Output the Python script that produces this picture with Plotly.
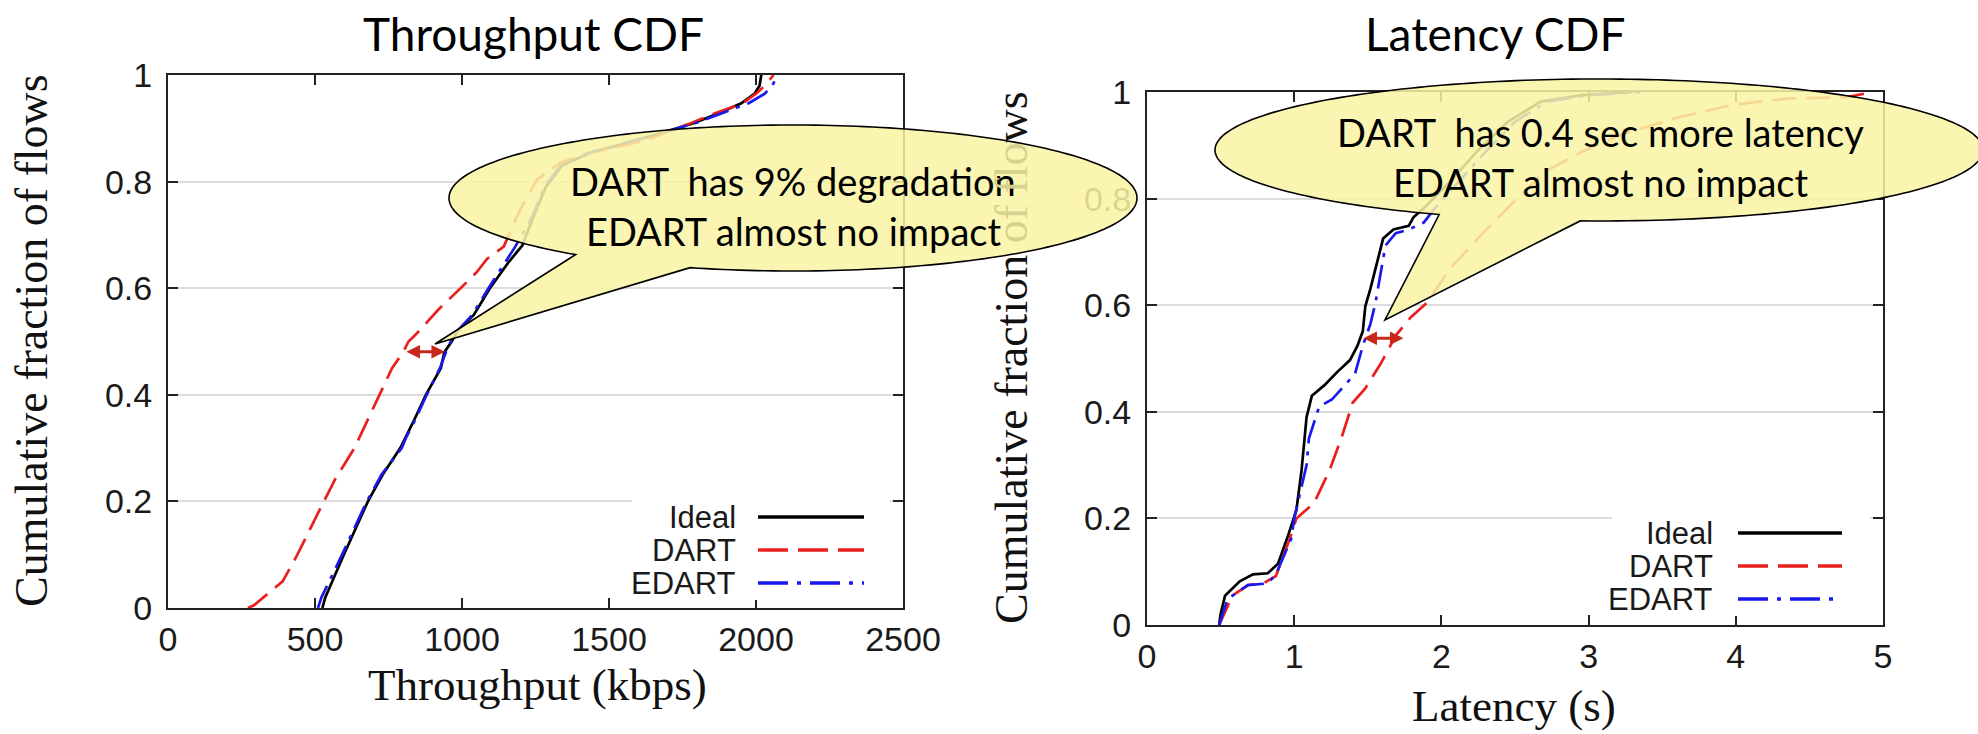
import numpy as np
import plotly.graph_objects as go

# ---------------- data ----------------
# Throughput CDF (kbps vs cumulative fraction)
tp_ideal_kbps = [525, 535, 598, 680, 730, 790, 835, 877, 928, 940, 965, 985, 1040, 1095, 1160,
                 1205, 1240, 1285, 1340, 1440, 1580, 1700, 1790, 1880, 1950, 1995, 2012, 2018]
tp_ideal_cdf = [0, 0.02, 0.1, 0.2, 0.25, 0.3, 0.35, 0.4, 0.45, 0.48, 0.5, 0.52, 0.55, 0.6, 0.65,
                0.68, 0.73, 0.79, 0.83, 0.855, 0.875, 0.895, 0.91, 0.93, 0.947, 0.965, 0.98, 1.0]

tp_dart_kbps = [272, 292, 390, 440, 530, 570, 634, 721, 762, 800, 818, 846, 920, 995, 1050, 1085,
                1142, 1197, 1254, 1333, 1424, 1514, 1628, 1705, 1780, 1870, 1955, 2000, 2030, 2060]
tp_dart_cdf = [0, 0.005, 0.05, 0.1, 0.2, 0.243, 0.3, 0.4, 0.45, 0.48, 0.5, 0.515, 0.56, 0.6, 0.63,
               0.655, 0.678, 0.747, 0.803, 0.835, 0.853, 0.863, 0.878, 0.895, 0.91, 0.93, 0.947,
               0.965, 0.98, 1.0]

tp_edart_kbps = [510, 522, 592, 676, 726, 795, 810, 838, 880, 925, 945, 962, 985, 1035, 1090, 1150,
                 1180, 1235, 1280, 1335, 1440, 1570, 1705, 1795, 1895, 1975, 2030, 2055, 2075]
tp_edart_cdf = [0, 0.02, 0.1, 0.2, 0.25, 0.3, 0.32, 0.35, 0.4, 0.45, 0.48, 0.5, 0.52, 0.55, 0.6,
                0.65, 0.677, 0.73, 0.79, 0.83, 0.855, 0.875, 0.895, 0.91, 0.93, 0.947, 0.965,
                0.98, 1.0]

# Latency CDF (seconds vs cumulative fraction)
lat_ideal_s = [0.49, 0.50, 0.53, 0.63, 0.72, 0.82, 0.89, 0.96, 1.015, 1.05, 1.084, 1.12, 1.206,
               1.29, 1.379, 1.43, 1.466, 1.483, 1.518, 1.569, 1.604, 1.674, 1.778, 1.81, 1.88,
               2.06, 2.24, 2.45, 2.675, 2.955, 3.3]
lat_ideal_cdf = [0, 0.02, 0.055, 0.082, 0.095, 0.097, 0.115, 0.169, 0.216, 0.29, 0.39, 0.43, 0.45,
                 0.474, 0.497, 0.524, 0.551, 0.598, 0.631, 0.685, 0.725, 0.742, 0.749, 0.765,
                 0.782, 0.832, 0.888, 0.944, 0.982, 0.994, 1.0]

lat_dart_s = [0.49, 0.58, 0.686, 0.79, 0.876, 0.97, 1.015, 1.135, 1.24, 1.327, 1.397, 1.483, 1.587,
              1.692, 1.794, 1.9, 2.06, 2.27, 2.47, 2.70, 2.955, 3.21, 3.59, 3.98, 4.36, 4.745, 4.93]
lat_dart_cdf = [0, 0.055, 0.075, 0.078, 0.092, 0.162, 0.2, 0.229, 0.29, 0.356, 0.417, 0.444, 0.49,
                0.544, 0.578, 0.604, 0.669, 0.732, 0.788, 0.85, 0.888, 0.919, 0.951, 0.976,
                0.988, 0.99, 1.0]

lat_edart_s = [0.49, 0.548, 0.686, 0.82, 0.876, 0.98, 1.0, 1.05, 1.084, 1.10, 1.17, 1.256, 1.345,
               1.413, 1.466, 1.518, 1.552, 1.587, 1.62, 1.69, 1.778, 1.88, 1.95, 2.12, 2.3, 2.5,
               2.72, 3.0, 3.35]
lat_edart_cdf = [0, 0.049, 0.075, 0.078, 0.095, 0.162, 0.2, 0.263, 0.3, 0.35, 0.41, 0.423, 0.45,
                 0.471, 0.524, 0.565, 0.604, 0.659, 0.712, 0.735, 0.742, 0.755, 0.78, 0.832,
                 0.888, 0.944, 0.982, 0.994, 1.0]

series_names = ["Ideal", "DART", "EDART"]
tp_ticks = [0, 500, 1000, 1500, 2000, 2500]
lat_ticks = [0, 1, 2, 3, 4, 5]
cdf_ticks = [0, 0.2, 0.4, 0.6, 0.8, 1]
cdf_ticktext = ["0", "0.2", "0.4", "0.6", "0.8", "1"]

# degradation markers (data coords): (x_start, x_end, y)
tp_gap = (806, 942, 0.481)
lat_gap = (1.46, 1.742, 0.538)

# ---------------- styling / layout geometry ----------------
W, H = 1978, 734
def px(x):
    return x / W
def py(y):
    return 1 - y / H

L_BOX = (168, 903, 75, 608)    # left, right, top, bottom (pixels)
R_BOX = (1147, 1883, 92, 625)

BLACK = "#000000"
RED = "rgb(235,30,30)"
BLUE = "rgb(25,25,235)"
ARROW = "rgb(200,40,25)"
styles = [dict(color=BLACK, width=2.7, dash="solid"),
          dict(color=RED, width=2.7, dash="24px,10px"),
          dict(color=BLUE, width=2.7, dash="24px,8px,4px,8px")]
legend_dash = ["solid", "30px,10px", "30px,9px,4px,9px"]

TICK_FONT = dict(family="Liberation Sans", size=34, color="#1a1a1a")
SERIF = "Liberation Serif"
CAL = "Lato"

fig = go.Figure()
tp_sets = [(tp_ideal_kbps, tp_ideal_cdf), (tp_dart_kbps, tp_dart_cdf), (tp_edart_kbps, tp_edart_cdf)]
lat_sets = [(lat_ideal_s, lat_ideal_cdf), (lat_dart_s, lat_dart_cdf), (lat_edart_s, lat_edart_cdf)]
for name, st, (xv, yv) in zip(series_names, styles, tp_sets):
    fig.add_trace(go.Scatter(x=xv, y=yv, mode="lines", name=name, line=st,
                             xaxis="x", yaxis="y", showlegend=False))
for name, st, (xv, yv) in zip(series_names, styles, lat_sets):
    fig.add_trace(go.Scatter(x=xv, y=yv, mode="lines", name=name, line=st,
                             xaxis="x2", yaxis="y2", showlegend=False))

axis_common = dict(showline=True, linecolor="#222", linewidth=2, mirror="ticks",
                   ticks="inside", ticklen=10, tickwidth=1.5, tickcolor="#222",
                   zeroline=False, tickfont=TICK_FONT, fixedrange=True)

fig.update_layout(
    width=W, height=H, autosize=False, template="none",
    margin=dict(l=0, r=0, t=0, b=0),
    paper_bgcolor="white", plot_bgcolor="white", showlegend=False,
    xaxis=dict(domain=[px(L_BOX[0]), px(L_BOX[1])], anchor="y", range=[0, 2500],
               tickvals=tp_ticks, showgrid=False, ticklabelstandoff=0, **axis_common),
    yaxis=dict(domain=[py(L_BOX[3]), py(L_BOX[2])], anchor="x", range=[0, 1],
               tickvals=cdf_ticks, ticktext=cdf_ticktext, showgrid=True,
               gridcolor="#dcdcdc", gridwidth=2, ticklabelstandoff=7, **axis_common),
    xaxis2=dict(domain=[px(R_BOX[0]), px(R_BOX[1])], anchor="y2", range=[0, 5],
                tickvals=lat_ticks, showgrid=False, ticklabelstandoff=0, **axis_common),
    yaxis2=dict(domain=[py(R_BOX[3]), py(R_BOX[2])], anchor="x2", range=[0, 1],
                tickvals=cdf_ticks, ticktext=cdf_ticktext, showgrid=True,
                gridcolor="#dcdcdc", gridwidth=2, ticklabelstandoff=7, **axis_common),
)

shapes = []
annotations = []

# ---- legends (gnuplot style: text right-aligned, sample line to the right) ----
def add_legend(text_right, line_x0, line_x1, ys, box):
    shapes.append(dict(type="rect", xref="paper", yref="paper", layer="above",
                       x0=px(box[0]), x1=px(box[1]), y0=py(box[3]), y1=py(box[2]),
                       fillcolor="white", line=dict(width=0)))
    for name, st, dash, yy in zip(series_names, styles, legend_dash, ys):
        annotations.append(dict(text=name, xref="paper", yref="paper", x=px(text_right), y=py(yy),
                                xanchor="right", yanchor="middle", showarrow=False,
                                font=dict(family="Liberation Sans", size=31, color="#1a1a1a")))
        shapes.append(dict(type="line", xref="paper", yref="paper", layer="above",
                           x0=px(line_x0), x1=px(line_x1), y0=py(yy), y1=py(yy),
                           line=dict(color=st["color"], width=3.4, dash=dash)))

add_legend(738, 758, 864, [517, 550, 583], (632, 890, 497, 600))
add_legend(1715, 1738, 1842, [533, 566, 599], (1612, 1870, 512, 616))

# ---- degradation arrows ----
annotations.append(dict(x=tp_gap[1], y=tp_gap[2], ax=tp_gap[0], ay=tp_gap[2], xref="x", yref="y",
                        axref="x", ayref="y", text="", showarrow=True, arrowside="end+start",
                        arrowhead=2, arrowsize=0.9, arrowwidth=3, arrowcolor=ARROW))
annotations.append(dict(x=lat_gap[1], y=lat_gap[2], ax=lat_gap[0], ay=lat_gap[2], xref="x2", yref="y2",
                        axref="x2", ayref="y2", text="", showarrow=True, arrowside="end+start",
                        arrowhead=2, arrowsize=0.9, arrowwidth=3, arrowcolor=ARROW))

# ---- callout bubbles (ellipse + wedge tail) ----
def bubble(cx, cy, rx, ry, t0, t1, tip):
    ts = np.radians(np.linspace(t0, t1, 240))
    xs = cx + rx * np.cos(ts)
    ys = cy + ry * np.sin(ts)
    pts = [(px(a), py(b)) for a, b in zip(xs, ys)] + [(px(tip[0]), py(tip[1]))]
    path = "M " + " L ".join(f"{a:.5f},{b:.5f}" for a, b in pts) + " Z"
    return dict(type="path", xref="paper", yref="paper", layer="above", path=path,
                fillcolor="rgba(249,244,165,0.86)", line=dict(color="black", width=1.6))

shapes.append(bubble(793, 198, 344, 73, 129.2, 467.4, (435, 344)))
shapes.append(bubble(1599, 150, 384, 71, 114.6, 452.8, (1385, 320)))

BUB_FONT = dict(family=CAL, size=38, color="black")
for txt, cx, cy in [("DART\u00a0 has 9% degradation", 793, 181),
                    ("EDART almost no impact", 793, 231),
                    ("DART\u00a0 has 0.4 sec more latency", 1600, 132),
                    ("EDART almost no impact", 1600, 182)]:
    annotations.append(dict(text=txt, xref="paper", yref="paper", x=px(cx), y=py(cy),
                            xanchor="center", yanchor="middle", showarrow=False, font=BUB_FONT))

# ---- titles ----
for txt, cx, cy in [("Throughput CDF", 533, 33), ("Latency CDF", 1495, 33)]:
    annotations.append(dict(text=txt, xref="paper", yref="paper", x=px(cx), y=py(cy),
                            xanchor="center", yanchor="middle", showarrow=False,
                            font=dict(family=CAL, size=46, color="black")))

# ---- axis titles ----
for txt, cx, cy in [("Throughput (kbps)", 537, 685), ("Latency (s)", 1514, 706)]:
    annotations.append(dict(text=txt, xref="paper", yref="paper", x=px(cx), y=py(cy),
                            xanchor="center", yanchor="middle", showarrow=False,
                            font=dict(family=SERIF, size=45, color="#111")))
YT_FONT = dict(family=SERIF, size=46, color="#111")
annotations.append(dict(text="Cumulative fraction of flows", xref="paper", yref="paper",
                        x=px(31), y=py(341), xanchor="center", yanchor="middle",
                        textangle=-90, showarrow=False, font=YT_FONT))
# right-hand y title: the part lying under the left callout appears faded
annotations.append(dict(text="Cumulative fraction<span style='color:rgb(214,209,143)'> of flo</span>ws",
                        xref="paper", yref="paper",
                        x=px(1011), y=py(358), xanchor="center", yanchor="middle",
                        textangle=-90, showarrow=False, font=YT_FONT))

fig.update_layout(shapes=shapes, annotations=annotations)
fig.write_html("out.html")
